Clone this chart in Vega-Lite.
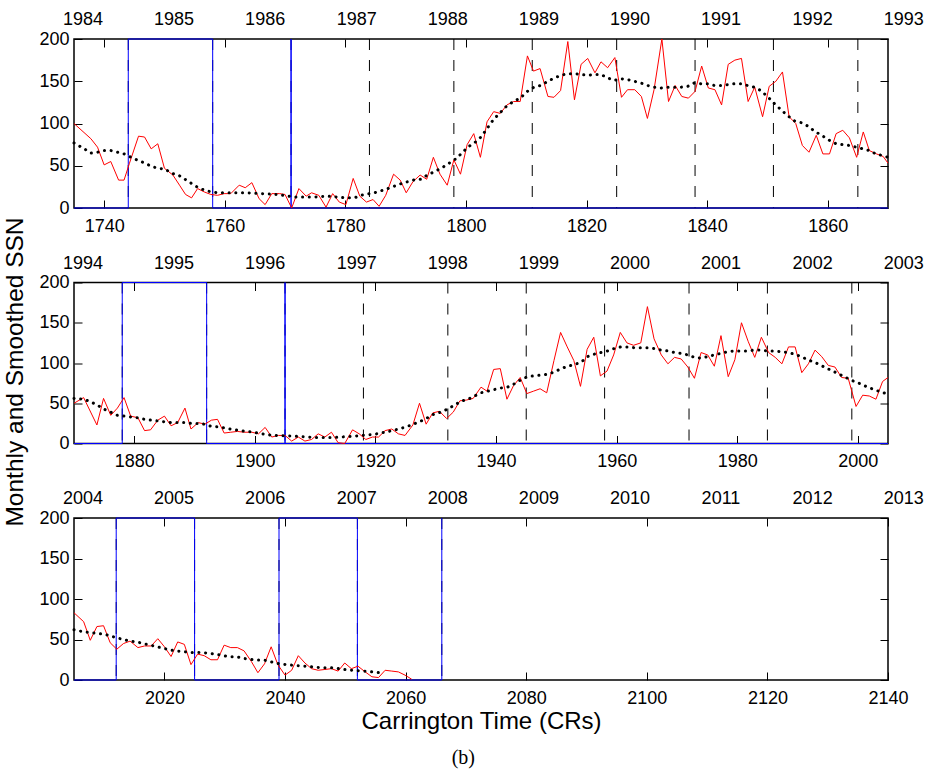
{
"$schema": "https://vega.github.io/schema/vega-lite/v6.json",
"padding": {"left": 2, "top": 10, "right": 5, "bottom": 5},
"config": {"font": "Liberation Sans", "view": {"stroke": "black", "strokeWidth": 1.5}},
"title": {"text": "(b)", "orient": "bottom", "anchor": "middle", "font": "Liberation Serif", "fontSize": 20, "fontWeight": "normal", "color": "black", "offset": 14},
"spacing": 74.5,
"bounds": "flush",
"datasets": {
"dash": [
{"p":1,"cr":1744},{"p":1,"cr":1758},{"p":1,"cr":1771},{"p":1,"cr":1784},{"p":1,"cr":1798},{"p":1,"cr":1811},{"p":1,"cr":1825},{"p":1,"cr":1838},{"p":1,"cr":1851},{"p":1,"cr":1865},
{"p":2,"cr":1878},{"p":2,"cr":1892},{"p":2,"cr":1905},{"p":2,"cr":1918},{"p":2,"cr":1932},{"p":2,"cr":1945},{"p":2,"cr":1958},{"p":2,"cr":1972},{"p":2,"cr":1985},{"p":2,"cr":1999},
{"p":3,"cr":2012},{"p":3,"cr":2025},{"p":3,"cr":2039},{"p":3,"cr":2052},{"p":3,"cr":2066}
],
"blue": [
{"p":1,"i":1,"cr":1735,"v":0},{"p":1,"i":2,"cr":1744,"v":0},{"p":1,"i":3,"cr":1744,"v":200},{"p":1,"i":4,"cr":1758,"v":200},{"p":1,"i":5,"cr":1758,"v":0},{"p":1,"i":6,"cr":1771,"v":0},{"p":1,"i":7,"cr":1771,"v":200},{"p":1,"i":8,"cr":1771,"v":0},{"p":1,"i":9,"cr":1870,"v":0},
{"p":2,"i":1,"cr":1870,"v":0},{"p":2,"i":2,"cr":1878,"v":0},{"p":2,"i":3,"cr":1878,"v":200},{"p":2,"i":4,"cr":1892,"v":200},{"p":2,"i":5,"cr":1892,"v":0},{"p":2,"i":6,"cr":1905,"v":0},{"p":2,"i":7,"cr":1905,"v":200},{"p":2,"i":8,"cr":1905,"v":0},{"p":2,"i":9,"cr":2005,"v":0},
{"p":3,"i":1,"cr":2005,"v":0},{"p":3,"i":2,"cr":2012,"v":0},{"p":3,"i":3,"cr":2012,"v":200},{"p":3,"i":4,"cr":2025,"v":200},{"p":3,"i":5,"cr":2025,"v":0},{"p":3,"i":6,"cr":2039,"v":0},{"p":3,"i":7,"cr":2039,"v":200},{"p":3,"i":8,"cr":2052,"v":200},{"p":3,"i":9,"cr":2052,"v":0},{"p":3,"i":10,"cr":2066,"v":0},{"p":3,"i":11,"cr":2066,"v":200}
],
"yrs": [
{"p":1,"cr":1736.5,"t":"1984"},{"p":1,"cr":1751.6,"t":"1985"},{"p":1,"cr":1766.7,"t":"1986"},{"p":1,"cr":1781.9,"t":"1987"},{"p":1,"cr":1797.0,"t":"1988"},{"p":1,"cr":1812.1,"t":"1989"},{"p":1,"cr":1827.2,"t":"1990"},{"p":1,"cr":1842.3,"t":"1991"},{"p":1,"cr":1857.5,"t":"1992"},{"p":1,"cr":1872.6,"t":"1993"},
{"p":2,"cr":1871.5,"t":"1994"},{"p":2,"cr":1886.6,"t":"1995"},{"p":2,"cr":1901.7,"t":"1996"},{"p":2,"cr":1916.9,"t":"1997"},{"p":2,"cr":1932.0,"t":"1998"},{"p":2,"cr":1947.1,"t":"1999"},{"p":2,"cr":1962.2,"t":"2000"},{"p":2,"cr":1977.3,"t":"2001"},{"p":2,"cr":1992.5,"t":"2002"},{"p":2,"cr":2007.6,"t":"2003"},
{"p":3,"cr":2006.5,"t":"2004"},{"p":3,"cr":2021.6,"t":"2005"},{"p":3,"cr":2036.7,"t":"2006"},{"p":3,"cr":2051.9,"t":"2007"},{"p":3,"cr":2067.0,"t":"2008"},{"p":3,"cr":2082.1,"t":"2009"},{"p":3,"cr":2097.2,"t":"2010"},{"p":3,"cr":2112.3,"t":"2011"},{"p":3,"cr":2127.5,"t":"2012"},{"p":3,"cr":2142.6,"t":"2013"}
],
"red": [
{"p":1,"cr":1735.0,"v":100},{"p":1,"cr":1737.8,"v":82},{"p":1,"cr":1738.9,"v":72},{"p":1,"cr":1740.0,"v":51},{"p":1,"cr":1741.1,"v":55},{"p":1,"cr":1742.4,"v":33},{"p":1,"cr":1743.3,"v":33},{"p":1,"cr":1744.2,"v":53},{"p":1,"cr":1745.7,"v":85},{"p":1,"cr":1746.7,"v":84},{"p":1,"cr":1747.8,"v":70},{"p":1,"cr":1748.9,"v":76},{"p":1,"cr":1750.0,"v":47},{"p":1,"cr":1751.4,"v":39},{"p":1,"cr":1752.5,"v":27},{"p":1,"cr":1753.5,"v":16},{"p":1,"cr":1754.5,"v":12},{"p":1,"cr":1755.5,"v":23},{"p":1,"cr":1756.6,"v":19},{"p":1,"cr":1757.7,"v":16},{"p":1,"cr":1758.8,"v":15},{"p":1,"cr":1759.9,"v":17},{"p":1,"cr":1761.0,"v":17},{"p":1,"cr":1762.4,"v":27},{"p":1,"cr":1763.4,"v":24},{"p":1,"cr":1764.5,"v":30},{"p":1,"cr":1765.7,"v":11},{"p":1,"cr":1766.7,"v":4},{"p":1,"cr":1767.8,"v":17},{"p":1,"cr":1769.1,"v":17},{"p":1,"cr":1770.0,"v":16},{"p":1,"cr":1771.1,"v":0},{"p":1,"cr":1772.3,"v":23},{"p":1,"cr":1773.5,"v":14},{"p":1,"cr":1774.4,"v":18},{"p":1,"cr":1775.6,"v":15},{"p":1,"cr":1776.8,"v":1},{"p":1,"cr":1777.9,"v":17},{"p":1,"cr":1779.0,"v":7},{"p":1,"cr":1780.1,"v":4},{"p":1,"cr":1781.3,"v":35},{"p":1,"cr":1782.4,"v":14},{"p":1,"cr":1783.5,"v":7},{"p":1,"cr":1784.6,"v":10},{"p":1,"cr":1785.6,"v":2},{"p":1,"cr":1786.7,"v":15},{"p":1,"cr":1788.0,"v":40},{"p":1,"cr":1789.1,"v":33},{"p":1,"cr":1790.1,"v":18},{"p":1,"cr":1791.2,"v":31},{"p":1,"cr":1792.4,"v":39},{"p":1,"cr":1793.5,"v":34},{"p":1,"cr":1794.6,"v":60},{"p":1,"cr":1795.7,"v":40},{"p":1,"cr":1796.9,"v":27},{"p":1,"cr":1798.0,"v":57},{"p":1,"cr":1799.1,"v":40},{"p":1,"cr":1800.2,"v":75},{"p":1,"cr":1801.3,"v":88},{"p":1,"cr":1802.4,"v":60},{"p":1,"cr":1803.5,"v":102},{"p":1,"cr":1804.6,"v":114},{"p":1,"cr":1805.7,"v":112},{"p":1,"cr":1806.8,"v":122},{"p":1,"cr":1807.9,"v":126},{"p":1,"cr":1809.0,"v":126},{"p":1,"cr":1810.2,"v":180},{"p":1,"cr":1811.2,"v":162},{"p":1,"cr":1812.3,"v":165},{"p":1,"cr":1813.6,"v":132},{"p":1,"cr":1814.6,"v":131},{"p":1,"cr":1815.7,"v":139},{"p":1,"cr":1816.9,"v":197},{"p":1,"cr":1818.0,"v":128},{"p":1,"cr":1819.1,"v":170},{"p":1,"cr":1820.2,"v":177},{"p":1,"cr":1821.4,"v":160},{"p":1,"cr":1822.4,"v":173},{"p":1,"cr":1823.5,"v":166},{"p":1,"cr":1824.7,"v":178},{"p":1,"cr":1825.8,"v":131},{"p":1,"cr":1826.8,"v":140},{"p":1,"cr":1828.0,"v":140},{"p":1,"cr":1829.1,"v":132},{"p":1,"cr":1830.1,"v":106},{"p":1,"cr":1831.2,"v":140},{"p":1,"cr":1832.5,"v":200},{"p":1,"cr":1833.6,"v":126},{"p":1,"cr":1834.7,"v":145},{"p":1,"cr":1835.8,"v":132},{"p":1,"cr":1836.9,"v":130},{"p":1,"cr":1838.0,"v":138},{"p":1,"cr":1839.1,"v":168},{"p":1,"cr":1840.2,"v":142},{"p":1,"cr":1841.3,"v":140},{"p":1,"cr":1842.4,"v":122},{"p":1,"cr":1843.5,"v":170},{"p":1,"cr":1844.6,"v":175},{"p":1,"cr":1845.7,"v":177},{"p":1,"cr":1846.8,"v":126},{"p":1,"cr":1847.9,"v":143},{"p":1,"cr":1849.2,"v":108},{"p":1,"cr":1850.3,"v":144},{"p":1,"cr":1851.4,"v":150},{"p":1,"cr":1852.5,"v":161},{"p":1,"cr":1853.6,"v":108},{"p":1,"cr":1854.7,"v":100},{"p":1,"cr":1855.8,"v":74},{"p":1,"cr":1856.9,"v":66},{"p":1,"cr":1858.1,"v":86},{"p":1,"cr":1859.2,"v":64},{"p":1,"cr":1860.3,"v":64},{"p":1,"cr":1861.4,"v":88},{"p":1,"cr":1862.5,"v":92},{"p":1,"cr":1863.6,"v":83},{"p":1,"cr":1864.8,"v":60},{"p":1,"cr":1865.9,"v":90},{"p":1,"cr":1866.9,"v":68},{"p":1,"cr":1868.1,"v":64},{"p":1,"cr":1869.2,"v":61},{"p":1,"cr":1870.0,"v":53},
{"p":2,"cr":1870.0,"v":50},{"p":2,"cr":1871.6,"v":57},{"p":2,"cr":1873.8,"v":23},{"p":2,"cr":1874.9,"v":56},{"p":2,"cr":1876.1,"v":35},{"p":2,"cr":1877.2,"v":44},{"p":2,"cr":1878.3,"v":57},{"p":2,"cr":1879.4,"v":34},{"p":2,"cr":1880.6,"v":32},{"p":2,"cr":1881.7,"v":16},{"p":2,"cr":1882.7,"v":17},{"p":2,"cr":1883.9,"v":29},{"p":2,"cr":1885.0,"v":34},{"p":2,"cr":1886.1,"v":22},{"p":2,"cr":1887.2,"v":26},{"p":2,"cr":1888.4,"v":44},{"p":2,"cr":1889.4,"v":18},{"p":2,"cr":1890.6,"v":26},{"p":2,"cr":1891.7,"v":24},{"p":2,"cr":1892.8,"v":29},{"p":2,"cr":1893.8,"v":30},{"p":2,"cr":1894.9,"v":13},{"p":2,"cr":1896.0,"v":14},{"p":2,"cr":1897.1,"v":15},{"p":2,"cr":1898.2,"v":14},{"p":2,"cr":1899.5,"v":14},{"p":2,"cr":1900.6,"v":12},{"p":2,"cr":1901.7,"v":20},{"p":2,"cr":1902.8,"v":8},{"p":2,"cr":1903.9,"v":10},{"p":2,"cr":1905.0,"v":10},{"p":2,"cr":1906.1,"v":3},{"p":2,"cr":1907.2,"v":8},{"p":2,"cr":1908.3,"v":3},{"p":2,"cr":1909.4,"v":5},{"p":2,"cr":1910.5,"v":12},{"p":2,"cr":1911.6,"v":8},{"p":2,"cr":1912.7,"v":14},{"p":2,"cr":1913.8,"v":1},{"p":2,"cr":1914.9,"v":0},{"p":2,"cr":1916.2,"v":17},{"p":2,"cr":1917.3,"v":12},{"p":2,"cr":1918.4,"v":5},{"p":2,"cr":1919.5,"v":8},{"p":2,"cr":1920.5,"v":8},{"p":2,"cr":1921.6,"v":16},{"p":2,"cr":1922.7,"v":18},{"p":2,"cr":1923.8,"v":12},{"p":2,"cr":1924.9,"v":10},{"p":2,"cr":1926.2,"v":23},{"p":2,"cr":1927.3,"v":50},{"p":2,"cr":1928.4,"v":24},{"p":2,"cr":1929.5,"v":38},{"p":2,"cr":1930.6,"v":40},{"p":2,"cr":1931.8,"v":31},{"p":2,"cr":1932.9,"v":39},{"p":2,"cr":1934.0,"v":53},{"p":2,"cr":1935.1,"v":54},{"p":2,"cr":1936.2,"v":56},{"p":2,"cr":1937.5,"v":70},{"p":2,"cr":1938.5,"v":65},{"p":2,"cr":1939.6,"v":92},{"p":2,"cr":1940.7,"v":93},{"p":2,"cr":1941.8,"v":55},{"p":2,"cr":1942.9,"v":72},{"p":2,"cr":1944.0,"v":82},{"p":2,"cr":1945.1,"v":62},{"p":2,"cr":1946.2,"v":65},{"p":2,"cr":1947.3,"v":68},{"p":2,"cr":1948.4,"v":63},{"p":2,"cr":1949.6,"v":103},{"p":2,"cr":1950.7,"v":138},{"p":2,"cr":1951.8,"v":120},{"p":2,"cr":1952.9,"v":103},{"p":2,"cr":1954.0,"v":71},{"p":2,"cr":1955.1,"v":117},{"p":2,"cr":1956.2,"v":132},{"p":2,"cr":1957.3,"v":84},{"p":2,"cr":1958.4,"v":90},{"p":2,"cr":1959.5,"v":110},{"p":2,"cr":1960.6,"v":138},{"p":2,"cr":1961.7,"v":125},{"p":2,"cr":1962.8,"v":122},{"p":2,"cr":1964.0,"v":125},{"p":2,"cr":1965.1,"v":170},{"p":2,"cr":1966.2,"v":130},{"p":2,"cr":1967.4,"v":110},{"p":2,"cr":1968.5,"v":99},{"p":2,"cr":1969.6,"v":107},{"p":2,"cr":1970.7,"v":105},{"p":2,"cr":1971.8,"v":95},{"p":2,"cr":1972.9,"v":81},{"p":2,"cr":1974.0,"v":113},{"p":2,"cr":1975.1,"v":110},{"p":2,"cr":1976.2,"v":96},{"p":2,"cr":1977.3,"v":134},{"p":2,"cr":1978.5,"v":83},{"p":2,"cr":1979.6,"v":104},{"p":2,"cr":1980.7,"v":150},{"p":2,"cr":1981.8,"v":127},{"p":2,"cr":1982.9,"v":107},{"p":2,"cr":1984.0,"v":132},{"p":2,"cr":1985.2,"v":113},{"p":2,"cr":1986.3,"v":107},{"p":2,"cr":1987.4,"v":99},{"p":2,"cr":1988.5,"v":120},{"p":2,"cr":1989.6,"v":120},{"p":2,"cr":1990.7,"v":88},{"p":2,"cr":1991.8,"v":99},{"p":2,"cr":1992.9,"v":116},{"p":2,"cr":1994.0,"v":108},{"p":2,"cr":1995.1,"v":97},{"p":2,"cr":1996.2,"v":95},{"p":2,"cr":1997.3,"v":82},{"p":2,"cr":1998.4,"v":81},{"p":2,"cr":1999.7,"v":46},{"p":2,"cr":2000.8,"v":60},{"p":2,"cr":2001.9,"v":59},{"p":2,"cr":2003.0,"v":55},{"p":2,"cr":2004.1,"v":77},{"p":2,"cr":2005.0,"v":82},
{"p":3,"cr":2005.0,"v":83},{"p":3,"cr":2006.6,"v":72},{"p":3,"cr":2007.7,"v":49},{"p":3,"cr":2008.8,"v":66},{"p":3,"cr":2009.9,"v":67},{"p":3,"cr":2011.0,"v":46},{"p":3,"cr":2012.1,"v":38},{"p":3,"cr":2013.2,"v":45},{"p":3,"cr":2014.3,"v":48},{"p":3,"cr":2015.6,"v":40},{"p":3,"cr":2016.7,"v":42},{"p":3,"cr":2017.8,"v":42},{"p":3,"cr":2018.9,"v":51},{"p":3,"cr":2020.0,"v":41},{"p":3,"cr":2021.1,"v":29},{"p":3,"cr":2022.2,"v":47},{"p":3,"cr":2023.3,"v":44},{"p":3,"cr":2024.4,"v":19},{"p":3,"cr":2025.5,"v":32},{"p":3,"cr":2026.6,"v":30},{"p":3,"cr":2027.7,"v":25},{"p":3,"cr":2028.8,"v":25},{"p":3,"cr":2029.9,"v":43},{"p":3,"cr":2031.0,"v":40},{"p":3,"cr":2032.1,"v":40},{"p":3,"cr":2033.2,"v":36},{"p":3,"cr":2034.4,"v":23},{"p":3,"cr":2035.5,"v":9},{"p":3,"cr":2036.6,"v":20},{"p":3,"cr":2037.7,"v":41},{"p":3,"cr":2038.8,"v":19},{"p":3,"cr":2040.0,"v":6},{"p":3,"cr":2041.1,"v":12},{"p":3,"cr":2042.2,"v":30},{"p":3,"cr":2043.3,"v":21},{"p":3,"cr":2044.4,"v":14},{"p":3,"cr":2045.5,"v":12},{"p":3,"cr":2046.6,"v":13},{"p":3,"cr":2047.7,"v":14},{"p":3,"cr":2048.8,"v":11},{"p":3,"cr":2049.9,"v":21},{"p":3,"cr":2051.0,"v":14},{"p":3,"cr":2052.1,"v":17},{"p":3,"cr":2053.3,"v":10},{"p":3,"cr":2054.4,"v":4},{"p":3,"cr":2055.5,"v":3},{"p":3,"cr":2056.6,"v":12},{"p":3,"cr":2057.7,"v":11},{"p":3,"cr":2058.8,"v":10},{"p":3,"cr":2059.9,"v":6},{"p":3,"cr":2061.0,"v":1}
],
"sm": [
{"p":1,"cr":1735.0,"v":77},{"p":1,"cr":1736.7,"v":70},{"p":1,"cr":1737.8,"v":65},{"p":1,"cr":1738.9,"v":66},{"p":1,"cr":1740.0,"v":68},{"p":1,"cr":1741.1,"v":68},{"p":1,"cr":1742.2,"v":66},{"p":1,"cr":1743.3,"v":64},{"p":1,"cr":1744.5,"v":60},{"p":1,"cr":1745.7,"v":56},{"p":1,"cr":1746.8,"v":53},{"p":1,"cr":1747.9,"v":49},{"p":1,"cr":1749.0,"v":47},{"p":1,"cr":1750.1,"v":46},{"p":1,"cr":1751.2,"v":41},{"p":1,"cr":1752.3,"v":39},{"p":1,"cr":1753.4,"v":34},{"p":1,"cr":1754.5,"v":29},{"p":1,"cr":1755.6,"v":24},{"p":1,"cr":1756.7,"v":21},{"p":1,"cr":1757.8,"v":19},{"p":1,"cr":1758.9,"v":18},{"p":1,"cr":1760.0,"v":18},{"p":1,"cr":1763.5,"v":18},{"p":1,"cr":1766.0,"v":17},{"p":1,"cr":1768.8,"v":16},{"p":1,"cr":1771.5,"v":13},{"p":1,"cr":1774.8,"v":13},{"p":1,"cr":1777.1,"v":14},{"p":1,"cr":1780.1,"v":12},{"p":1,"cr":1781.5,"v":12},{"p":1,"cr":1782.6,"v":15},{"p":1,"cr":1784.8,"v":18},{"p":1,"cr":1786.7,"v":22},{"p":1,"cr":1788.9,"v":28},{"p":1,"cr":1791.2,"v":33},{"p":1,"cr":1792.5,"v":34},{"p":1,"cr":1793.6,"v":39},{"p":1,"cr":1795.9,"v":47},{"p":1,"cr":1798.1,"v":57},{"p":1,"cr":1799.2,"v":64},{"p":1,"cr":1800.3,"v":72},{"p":1,"cr":1801.4,"v":77},{"p":1,"cr":1802.5,"v":84},{"p":1,"cr":1803.5,"v":94},{"p":1,"cr":1804.6,"v":105},{"p":1,"cr":1805.7,"v":113},{"p":1,"cr":1806.8,"v":121},{"p":1,"cr":1807.9,"v":126},{"p":1,"cr":1809.0,"v":130},{"p":1,"cr":1810.2,"v":138},{"p":1,"cr":1811.3,"v":143},{"p":1,"cr":1812.4,"v":145},{"p":1,"cr":1813.6,"v":150},{"p":1,"cr":1814.7,"v":154},{"p":1,"cr":1815.8,"v":157},{"p":1,"cr":1816.9,"v":159},{"p":1,"cr":1818.0,"v":159},{"p":1,"cr":1819.1,"v":158},{"p":1,"cr":1820.2,"v":157},{"p":1,"cr":1821.3,"v":158},{"p":1,"cr":1822.4,"v":158},{"p":1,"cr":1823.5,"v":154},{"p":1,"cr":1824.6,"v":151},{"p":1,"cr":1825.7,"v":153},{"p":1,"cr":1826.8,"v":152},{"p":1,"cr":1827.9,"v":150},{"p":1,"cr":1829.0,"v":148},{"p":1,"cr":1830.1,"v":145},{"p":1,"cr":1831.2,"v":143},{"p":1,"cr":1832.4,"v":142},{"p":1,"cr":1833.5,"v":143},{"p":1,"cr":1834.6,"v":143},{"p":1,"cr":1835.7,"v":143},{"p":1,"cr":1836.8,"v":144},{"p":1,"cr":1837.9,"v":148},{"p":1,"cr":1839.0,"v":147},{"p":1,"cr":1840.1,"v":147},{"p":1,"cr":1841.2,"v":145},{"p":1,"cr":1842.3,"v":145},{"p":1,"cr":1843.4,"v":146},{"p":1,"cr":1844.5,"v":147},{"p":1,"cr":1845.6,"v":147},{"p":1,"cr":1846.7,"v":145},{"p":1,"cr":1847.8,"v":143},{"p":1,"cr":1848.9,"v":139},{"p":1,"cr":1850.0,"v":132},{"p":1,"cr":1851.1,"v":124},{"p":1,"cr":1852.3,"v":116},{"p":1,"cr":1853.4,"v":109},{"p":1,"cr":1854.5,"v":103},{"p":1,"cr":1855.6,"v":101},{"p":1,"cr":1856.7,"v":97},{"p":1,"cr":1857.8,"v":91},{"p":1,"cr":1859.2,"v":85},{"p":1,"cr":1860.3,"v":80},{"p":1,"cr":1861.4,"v":76},{"p":1,"cr":1862.5,"v":75},{"p":1,"cr":1863.6,"v":74},{"p":1,"cr":1864.7,"v":72},{"p":1,"cr":1865.8,"v":70},{"p":1,"cr":1866.9,"v":68},{"p":1,"cr":1868.0,"v":64},{"p":1,"cr":1869.1,"v":62},{"p":1,"cr":1870.0,"v":60},
{"p":2,"cr":1870.0,"v":56},{"p":2,"cr":1871.6,"v":55},{"p":2,"cr":1872.7,"v":52},{"p":2,"cr":1873.8,"v":48},{"p":2,"cr":1874.9,"v":43},{"p":2,"cr":1876.1,"v":39},{"p":2,"cr":1877.2,"v":35},{"p":2,"cr":1878.3,"v":34},{"p":2,"cr":1879.4,"v":33},{"p":2,"cr":1880.6,"v":32},{"p":2,"cr":1881.7,"v":30},{"p":2,"cr":1882.8,"v":29},{"p":2,"cr":1883.9,"v":28},{"p":2,"cr":1885.0,"v":27},{"p":2,"cr":1886.1,"v":26},{"p":2,"cr":1888.3,"v":26},{"p":2,"cr":1889.4,"v":25},{"p":2,"cr":1890.5,"v":25},{"p":2,"cr":1891.6,"v":24},{"p":2,"cr":1892.7,"v":21.5},{"p":2,"cr":1893.8,"v":20.7},{"p":2,"cr":1894.9,"v":19.5},{"p":2,"cr":1896.0,"v":17.8},{"p":2,"cr":1897.1,"v":16.6},{"p":2,"cr":1898.2,"v":15.3},{"p":2,"cr":1899.3,"v":14.5},{"p":2,"cr":1900.5,"v":13},{"p":2,"cr":1901.6,"v":11.6},{"p":2,"cr":1902.7,"v":10.4},{"p":2,"cr":1904.9,"v":9.5},{"p":2,"cr":1906.5,"v":9.1},{"p":2,"cr":1908.2,"v":8.3},{"p":2,"cr":1909.9,"v":7.5},{"p":2,"cr":1913.2,"v":7.5},{"p":2,"cr":1914.8,"v":8.3},{"p":2,"cr":1916.5,"v":9.1},{"p":2,"cr":1918.1,"v":10.4},{"p":2,"cr":1919.5,"v":11},{"p":2,"cr":1920.9,"v":13},{"p":2,"cr":1922.6,"v":15.7},{"p":2,"cr":1924.2,"v":18.6},{"p":2,"cr":1925.9,"v":22.8},{"p":2,"cr":1927.3,"v":27},{"p":2,"cr":1928.4,"v":31},{"p":2,"cr":1929.8,"v":37},{"p":2,"cr":1930.9,"v":39},{"p":2,"cr":1932.0,"v":43},{"p":2,"cr":1933.1,"v":47.6},{"p":2,"cr":1934.2,"v":52.6},{"p":2,"cr":1935.3,"v":54.7},{"p":2,"cr":1936.4,"v":59},{"p":2,"cr":1937.5,"v":63},{"p":2,"cr":1938.6,"v":65},{"p":2,"cr":1939.7,"v":67},{"p":2,"cr":1940.8,"v":69},{"p":2,"cr":1941.9,"v":70},{"p":2,"cr":1943.0,"v":74},{"p":2,"cr":1944.1,"v":79},{"p":2,"cr":1945.2,"v":83},{"p":2,"cr":1946.3,"v":84},{"p":2,"cr":1947.5,"v":85},{"p":2,"cr":1948.6,"v":86},{"p":2,"cr":1949.7,"v":89},{"p":2,"cr":1950.8,"v":93},{"p":2,"cr":1951.9,"v":96},{"p":2,"cr":1953.0,"v":98},{"p":2,"cr":1954.1,"v":101},{"p":2,"cr":1955.2,"v":108},{"p":2,"cr":1956.3,"v":111},{"p":2,"cr":1957.4,"v":113},{"p":2,"cr":1958.5,"v":115},{"p":2,"cr":1959.6,"v":118},{"p":2,"cr":1960.7,"v":120},{"p":2,"cr":1961.8,"v":120},{"p":2,"cr":1962.9,"v":119},{"p":2,"cr":1964.0,"v":119},{"p":2,"cr":1965.1,"v":119},{"p":2,"cr":1966.2,"v":118},{"p":2,"cr":1967.4,"v":116},{"p":2,"cr":1968.5,"v":115},{"p":2,"cr":1969.6,"v":113},{"p":2,"cr":1970.7,"v":112},{"p":2,"cr":1971.8,"v":110},{"p":2,"cr":1972.9,"v":107},{"p":2,"cr":1974.0,"v":106},{"p":2,"cr":1975.1,"v":108},{"p":2,"cr":1976.2,"v":110},{"p":2,"cr":1977.3,"v":112},{"p":2,"cr":1978.4,"v":114},{"p":2,"cr":1979.5,"v":115},{"p":2,"cr":1980.6,"v":115},{"p":2,"cr":1981.7,"v":115},{"p":2,"cr":1982.8,"v":116},{"p":2,"cr":1983.9,"v":116},{"p":2,"cr":1985.0,"v":115},{"p":2,"cr":1986.1,"v":115},{"p":2,"cr":1987.3,"v":114},{"p":2,"cr":1988.4,"v":113},{"p":2,"cr":1989.5,"v":111},{"p":2,"cr":1990.6,"v":108},{"p":2,"cr":1991.7,"v":104},{"p":2,"cr":1992.8,"v":101},{"p":2,"cr":1993.9,"v":97},{"p":2,"cr":1995.0,"v":93},{"p":2,"cr":1996.1,"v":89},{"p":2,"cr":1997.2,"v":85},{"p":2,"cr":1998.3,"v":81},{"p":2,"cr":1999.4,"v":77},{"p":2,"cr":2000.5,"v":74},{"p":2,"cr":2001.6,"v":70},{"p":2,"cr":2002.7,"v":67},{"p":2,"cr":2003.8,"v":64},{"p":2,"cr":2004.7,"v":62},
{"p":3,"cr":2005.0,"v":62},{"p":3,"cr":2006.6,"v":59.5},{"p":3,"cr":2007.7,"v":58.7},{"p":3,"cr":2008.8,"v":57.5},{"p":3,"cr":2009.9,"v":56.7},{"p":3,"cr":2011.0,"v":54.6},{"p":3,"cr":2012.1,"v":52},{"p":3,"cr":2013.2,"v":50},{"p":3,"cr":2014.3,"v":48},{"p":3,"cr":2015.4,"v":47},{"p":3,"cr":2016.5,"v":45},{"p":3,"cr":2017.7,"v":43},{"p":3,"cr":2018.8,"v":41},{"p":3,"cr":2019.9,"v":39},{"p":3,"cr":2021.0,"v":37},{"p":3,"cr":2022.1,"v":35.7},{"p":3,"cr":2023.2,"v":35},{"p":3,"cr":2024.3,"v":34},{"p":3,"cr":2025.4,"v":34},{"p":3,"cr":2026.5,"v":33.7},{"p":3,"cr":2027.6,"v":32.9},{"p":3,"cr":2028.7,"v":31.6},{"p":3,"cr":2029.8,"v":30},{"p":3,"cr":2030.9,"v":28.7},{"p":3,"cr":2032.0,"v":28.7},{"p":3,"cr":2033.1,"v":26.7},{"p":3,"cr":2034.2,"v":25.5},{"p":3,"cr":2035.3,"v":24.6},{"p":3,"cr":2036.5,"v":24.6},{"p":3,"cr":2037.6,"v":22.6},{"p":3,"cr":2038.7,"v":20.5},{"p":3,"cr":2039.8,"v":19.3},{"p":3,"cr":2040.9,"v":18.5},{"p":3,"cr":2042.0,"v":17.7},{"p":3,"cr":2043.1,"v":17.2},{"p":3,"cr":2044.2,"v":16.4},{"p":3,"cr":2045.3,"v":15.6},{"p":3,"cr":2046.4,"v":15.2},{"p":3,"cr":2047.5,"v":15.2},{"p":3,"cr":2048.6,"v":14.4},{"p":3,"cr":2049.7,"v":13.1},{"p":3,"cr":2050.8,"v":12.3},{"p":3,"cr":2051.9,"v":11.5},{"p":3,"cr":2053.0,"v":11.1},{"p":3,"cr":2054.1,"v":10.3},{"p":3,"cr":2055.2,"v":9.4},{"p":3,"cr":2055.8,"v":9.0}
]
},
"vconcat": [
{
"width": 814, "height": 169,
"resolve": {"axis": {"x": "independent", "y": "independent"}},
"layer": [
{"data": {"name": "dash"}, "transform": [{"filter": "datum.p == 1"}],
 "mark": {"type": "rule", "color": "black", "strokeWidth": 1, "strokeDash": [11, 10]},
 "encoding": {"x": {"field": "cr", "type": "quantitative", "scale": {"domain": [1735, 1870], "nice": false, "zero": false},
   "axis": {"orient": "bottom", "values": [1740,1760,1780,1800,1820,1840,1860], "format": "d", "tickSize": -8, "tickColor": "black", "domain": false, "grid": false, "labelFontSize": 18, "labelColor": "black", "labelPadding": 17, "labelFlush": false, "labelOverlap": false, "title": null}}}},
{"data": {"name": "blue"}, "transform": [{"filter": "datum.p == 1"}],
 "mark": {"type": "line", "color": "#0000ff", "strokeWidth": 1},
 "encoding": {"x": {"field": "cr", "type": "quantitative", "axis": {"orient": "top", "values": [1740,1760,1780,1800,1820,1840,1860], "tickSize": -8, "tickColor": "black", "labels": false, "domain": false, "grid": false, "title": null}},
   "y": {"field": "v", "type": "quantitative", "scale": {"domain": [0, 200], "nice": false},
     "axis": {"orient": "left", "values": [0,50,100,150,200], "tickSize": -8, "tickColor": "black", "domain": false, "grid": false, "labelFontSize": 18, "labelColor": "black", "labelPadding": 13, "title": null}},
   "order": {"field": "i"}}},
{"data": {"name": "red"}, "transform": [{"filter": "datum.p == 1"}],
 "mark": {"type": "line", "color": "#ff0000", "strokeWidth": 1},
 "encoding": {"x": {"field": "cr", "type": "quantitative", "axis": null}, "y": {"field": "v", "type": "quantitative", "axis": null}}},
{"data": {"name": "sm"}, "transform": [{"filter": "datum.p == 1"}],
 "mark": {"type": "line", "color": "black", "strokeWidth": 3, "strokeCap": "round", "strokeDash": [0.1, 6.6]},
 "encoding": {"x": {"field": "cr", "type": "quantitative", "axis": null},
   "y": {"field": "v", "type": "quantitative", "axis": {"orient": "right", "values": [0,50,100,150,200], "tickSize": -8, "tickColor": "black", "labels": false, "domain": false, "grid": false, "title": null}}}},
{"data": {"name": "yrs"}, "transform": [{"filter": "datum.p == 1"}],
 "mark": {"type": "text", "fontSize": 18, "baseline": "alphabetic", "align": "center", "dy": -14, "color": "black"},
 "encoding": {"x": {"field": "cr", "type": "quantitative", "axis": null}, "y": {"datum": 200, "type": "quantitative", "axis": null}, "text": {"field": "t"}}}
]
},
{
"width": 814, "height": 161,
"resolve": {"axis": {"x": "independent", "y": "independent"}},
"layer": [
{"data": {"name": "dash"}, "transform": [{"filter": "datum.p == 2"}],
 "mark": {"type": "rule", "color": "black", "strokeWidth": 1, "strokeDash": [11, 10]},
 "encoding": {"x": {"field": "cr", "type": "quantitative", "scale": {"domain": [1870, 2005], "nice": false, "zero": false},
   "axis": {"orient": "bottom", "values": [1880,1900,1920,1940,1960,1980,2000], "format": "d", "tickSize": -8, "tickColor": "black", "domain": false, "grid": false, "labelFontSize": 18, "labelColor": "black", "labelPadding": 17, "labelFlush": false, "labelOverlap": false, "title": null}}}},
{"data": {"name": "blue"}, "transform": [{"filter": "datum.p == 2"}],
 "mark": {"type": "line", "color": "#0000ff", "strokeWidth": 1},
 "encoding": {"x": {"field": "cr", "type": "quantitative", "axis": {"orient": "top", "values": [1880,1900,1920,1940,1960,1980,2000], "tickSize": -8, "tickColor": "black", "labels": false, "domain": false, "grid": false, "title": null}},
   "y": {"field": "v", "type": "quantitative", "scale": {"domain": [0, 200], "nice": false},
     "axis": {"orient": "left", "values": [0,50,100,150,200], "tickSize": -8, "tickColor": "black", "domain": false, "grid": false, "labelFontSize": 18, "labelColor": "black", "labelPadding": 13, "title": "Monthly and Smoothed SSN", "titleFontSize": 24.5, "titleFontWeight": "normal", "titleColor": "black", "titlePadding": 11, "titleY": 89}},
   "order": {"field": "i"}}},
{"data": {"name": "red"}, "transform": [{"filter": "datum.p == 2"}],
 "mark": {"type": "line", "color": "#ff0000", "strokeWidth": 1},
 "encoding": {"x": {"field": "cr", "type": "quantitative", "axis": null}, "y": {"field": "v", "type": "quantitative", "axis": null}}},
{"data": {"name": "sm"}, "transform": [{"filter": "datum.p == 2"}],
 "mark": {"type": "line", "color": "black", "strokeWidth": 3, "strokeCap": "round", "strokeDash": [0.1, 6.6]},
 "encoding": {"x": {"field": "cr", "type": "quantitative", "axis": null},
   "y": {"field": "v", "type": "quantitative", "axis": {"orient": "right", "values": [0,50,100,150,200], "tickSize": -8, "tickColor": "black", "labels": false, "domain": false, "grid": false, "title": null}}}},
{"data": {"name": "yrs"}, "transform": [{"filter": "datum.p == 2"}],
 "mark": {"type": "text", "fontSize": 18, "baseline": "alphabetic", "align": "center", "dy": -14, "color": "black"},
 "encoding": {"x": {"field": "cr", "type": "quantitative", "axis": null}, "y": {"datum": 200, "type": "quantitative", "axis": null}, "text": {"field": "t"}}}
]
},
{
"width": 814, "height": 162,
"resolve": {"axis": {"x": "independent", "y": "independent"}},
"layer": [
{"data": {"name": "dash"}, "transform": [{"filter": "datum.p == 3"}],
 "mark": {"type": "rule", "color": "black", "strokeWidth": 1, "strokeDash": [11, 10]},
 "encoding": {"x": {"field": "cr", "type": "quantitative", "scale": {"domain": [2005, 2140], "nice": false, "zero": false},
   "axis": {"orient": "bottom", "values": [2020,2040,2060,2080,2100,2120,2140], "format": "d", "tickSize": -8, "tickColor": "black", "domain": false, "grid": false, "labelFontSize": 18, "labelColor": "black", "labelPadding": 17, "labelFlush": false, "labelOverlap": false, "title": "Carrington Time (CRs)", "titleFontSize": 24, "titleFontWeight": "normal", "titleColor": "black", "titlePadding": 2}}}},
{"data": {"name": "blue"}, "transform": [{"filter": "datum.p == 3"}],
 "mark": {"type": "line", "color": "#0000ff", "strokeWidth": 1},
 "encoding": {"x": {"field": "cr", "type": "quantitative", "axis": {"orient": "top", "values": [2020,2040,2060,2080,2100,2120,2140], "tickSize": -8, "tickColor": "black", "labels": false, "domain": false, "grid": false, "title": null}},
   "y": {"field": "v", "type": "quantitative", "scale": {"domain": [0, 200], "nice": false},
     "axis": {"orient": "left", "values": [0,50,100,150,200], "tickSize": -8, "tickColor": "black", "domain": false, "grid": false, "labelFontSize": 18, "labelColor": "black", "labelPadding": 13, "title": null}},
   "order": {"field": "i"}}},
{"data": {"name": "red"}, "transform": [{"filter": "datum.p == 3"}],
 "mark": {"type": "line", "color": "#ff0000", "strokeWidth": 1},
 "encoding": {"x": {"field": "cr", "type": "quantitative", "axis": null}, "y": {"field": "v", "type": "quantitative", "axis": null}}},
{"data": {"name": "sm"}, "transform": [{"filter": "datum.p == 3"}],
 "mark": {"type": "line", "color": "black", "strokeWidth": 3, "strokeCap": "round", "strokeDash": [0.1, 6.6]},
 "encoding": {"x": {"field": "cr", "type": "quantitative", "axis": null},
   "y": {"field": "v", "type": "quantitative", "axis": {"orient": "right", "values": [0,50,100,150,200], "tickSize": -8, "tickColor": "black", "labels": false, "domain": false, "grid": false, "title": null}}}},
{"data": {"name": "yrs"}, "transform": [{"filter": "datum.p == 3"}],
 "mark": {"type": "text", "fontSize": 18, "baseline": "alphabetic", "align": "center", "dy": -14, "color": "black"},
 "encoding": {"x": {"field": "cr", "type": "quantitative", "axis": null}, "y": {"datum": 200, "type": "quantitative", "axis": null}, "text": {"field": "t"}}}
]
}
]
}
